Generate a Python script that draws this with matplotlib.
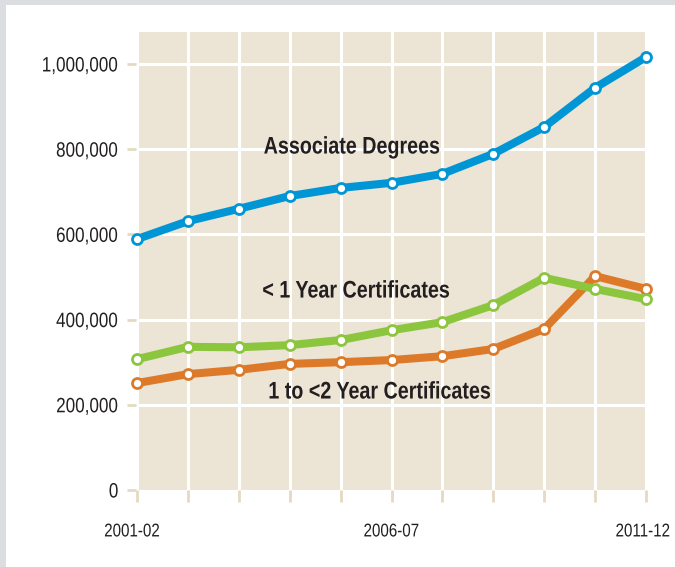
import matplotlib
matplotlib.use("Agg")
import matplotlib.pyplot as plt
from matplotlib.patches import Rectangle
from matplotlib.patheffects import AbstractPathEffect
from matplotlib.transforms import Affine2D

# school years on the x axis
years = ["2001-02", "2002-03", "2003-04", "2004-05", "2005-06", "2006-07",
         "2007-08", "2008-09", "2009-10", "2010-11", "2011-12"]
shown_years = ["2001-02", "2006-07", "2011-12"]

associate = [589000, 631000, 660000, 690000, 709000, 721000,
             742000, 789000, 852000, 944000, 1016000]
under_1yr = [307000, 336000, 335000, 340000, 352000, 375000,
             394000, 434000, 498000, 472000, 448000]
one_to_2yr = [251000, 272000, 282000, 296000, 300000, 305000,
              314000, 331000, 378000, 502000, 472000]

y_ticks = [0, 200000, 400000, 600000, 800000, 1000000]


class Narrow(AbstractPathEffect):
    """Squeeze text horizontally (no Arial Narrow installed)."""

    def __init__(self, sx=0.82, anchor='center'):
        super().__init__()
        self.sx = sx
        self.anchor = anchor

    def draw_path(self, renderer, gc, tpath, affine, rgbFace=None):
        ext = tpath.get_extents()
        if self.anchor == 'right':
            cx = ext.x1
        elif self.anchor == 'left':
            cx = ext.x0
        else:
            cx = (ext.x0 + ext.x1) / 2
        t = Affine2D().translate(-cx, 0).scale(self.sx, 1).translate(cx, 0) + affine
        renderer.draw_path(gc, tpath, t, rgbFace)


FONT = 'Liberation Sans'
BEIGE = '#ece4d4'
TICK = '#e4dac3'
BLUE = '#0096d6'
GREEN = '#8cc63f'
ORANGE = '#dd7a2a'
TEXT = '#231f20'

fig = plt.figure(figsize=(6.75, 5.67), dpi=100)
fig.patch.set_facecolor('white')
# grey frame strips on top and left
fig.patches.append(Rectangle((0, 1 - 5 / 567), 1, 5 / 567, transform=fig.transFigure,
                             facecolor='#dcdde0', edgecolor='none', zorder=0))
fig.patches.append(Rectangle((0, 0), 6 / 675, 1, transform=fig.transFigure,
                             facecolor='#dcdde0', edgecolor='none', zorder=0))

ax = fig.add_axes([136 / 675, 1 - 490 / 567, 511 / 675, 458 / 567])
ax.set_facecolor(BEIGE)
for s in ax.spines.values():
    s.set_visible(False)

x = list(range(len(years)))
ax.set_xlim(-0.02, len(years) - 1 + 0.02)
ax.set_ylim(0, 1075000)

# white grid
for xi in x:
    ax.axvline(xi, color='white', lw=2.2, zorder=1)
for yt in y_ticks[1:]:
    ax.plot([x[0], x[-1]], [yt, yt], color='white', lw=2.2, zorder=1,
            solid_capstyle='butt')

for vals, col in [(one_to_2yr, ORANGE), (under_1yr, GREEN), (associate, BLUE)]:
    ax.plot(x, vals, color=col, lw=5.8, marker='o', markersize=7.2,
            markerfacecolor='white', markeredgecolor=col, markeredgewidth=2.0,
            zorder=3, clip_on=False)

lab = dict(family=FONT, fontsize=17.3, fontweight='bold', color=TEXT,
           ha='center', va='center', zorder=4, path_effects=[Narrow()])
ax.text(4.22, 805000, "Associate Degrees", **lab)
ax.text(4.30, 467000, "< 1 Year Certificates", **lab)
ax.text(4.76, 230000, "1 to <2 Year Certificates", **lab)

# tick marks on every year, labels only on three of them
ax.set_xticks(x)
ax.set_xticklabels([])
ax.set_yticks(y_ticks)
ax.set_yticklabels([f"{v:,}" for v in y_ticks])
ax.tick_params(axis='x', length=8.5, width=2, color=TICK)
ax.tick_params(axis='y', length=6.5, width=2, color=TICK, pad=6,
               labelsize=15, labelcolor=TEXT)
for t in ax.get_yticklabels():
    t.set_family(FONT)
    t.set_path_effects([Narrow(anchor='right')])

label_style = {"2001-02": (-3.6, 'center'), "2006-07": (0, 'center'),
               "2011-12": (17.3, 'right')}
for yr in shown_years:
    dx, ha = label_style[yr]
    ax.annotate(yr, xy=(years.index(yr), 0), xycoords=('data', 'axes fraction'),
                xytext=(dx, -30.2), textcoords='offset points',
                ha=ha, va='center', fontsize=13.3, family=FONT, color=TEXT,
                annotation_clip=False, path_effects=[Narrow(anchor=ha)])

fig.savefig('out.png', dpi=100)
